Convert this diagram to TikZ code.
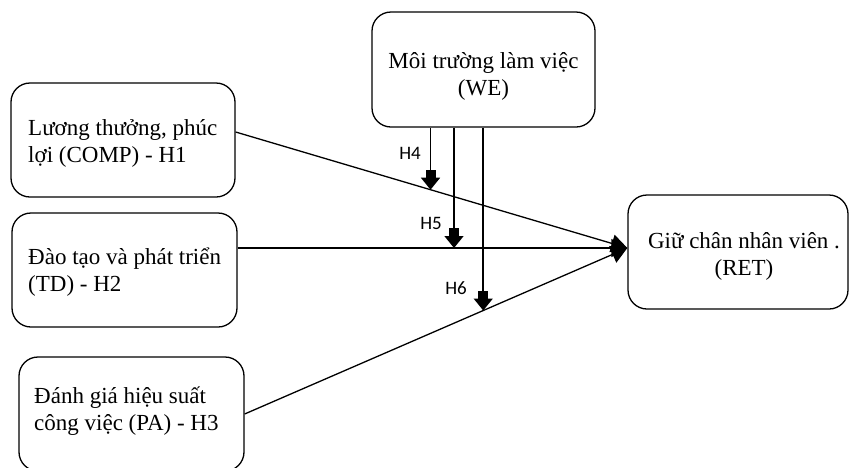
\documentclass[tikz,border=0pt]{standalone}
\usepackage{fontspec}
\setmainfont{Liberation Serif}
\newfontfamily\hfont{Carlito}
\usetikzlibrary{arrows.meta,calc}
\begin{document}
\begin{tikzpicture}[x=1pt,y=-1pt,
  box/.style={draw, line width=1.3pt, rounded corners=19pt, inner sep=0pt},
  txt/.style={inner sep=0pt, font=\fontsize{23}{27}\selectfont},
  hlab/.style={inner sep=0pt, font=\hfont\fontsize{19}{22}\selectfont},
  link/.style={line width=1.3pt, -{Triangle[length=16pt,width=18pt]}},
  moder/.style={line width=1.6pt, -{Rectangle[length=8pt,width=10pt]Triangle[length=12pt,width=19pt]}}]
\clip (0,0) rectangle (849,467);
\fill[white] (0,0) rectangle (849,467);
% boxes
\node[box, minimum width=223pt, minimum height=115pt] (we) at (483.5,69.5) {};
\node[box, minimum width=224pt, minimum height=114pt] (comp) at (123,140) {};
\node[box, minimum width=225pt, minimum height=114pt] (td) at (124.5,270) {};
\node[box, minimum width=225pt, minimum height=114pt] (pa) at (131.5,414) {};
\node[box, minimum width=220pt, minimum height=114pt] (ret) at (738,252) {};
% texts
\node[txt, align=center] (wet) at (483.5,76) {Môi trường làm việc\\(WE)};
\node[txt, align=left, anchor=west] (compt) at (28,143) {Lương thưởng, phúc\\lợi (COMP) - H1};
\node[txt, align=left, anchor=west] (tdt) at (28,272.5) {Đào tạo và phát triển\\(TD) - H2};
\node[txt, align=left, anchor=west] (pat) at (34,411.5) {Đánh giá hiệu suất\\công việc (PA) - H3};
\node[txt, align=center] (rett) at (744,256.5) {Giữ chân nhân viên .\\(RET)};
% connectors to RET
\coordinate (rettip) at ([yshift=4pt]ret.west);
\coordinate (compout) at ([yshift=8pt]comp.east);
\coordinate (tdout) at (td.east |- rettip);
\coordinate (paout) at (pa.east);
\draw[link] (compout) -- (rettip);
\draw[link] (tdout) -- (rettip);
\draw[link] (paout) -- (rettip);
% moderating points
\coordinate (h4pt) at ($(compout)!0.4975!(rettip)$);
\coordinate (h5pt) at (454,248);
\coordinate (h6pt) at ($(paout)!0.6234!(rettip)$);
\draw[moder] (we.south -| h4pt) -- (h4pt);
\draw[moder] (we.south -| h5pt) -- (h5pt);
\draw[moder] (we.south -| h6pt) -- (h6pt);
% labels
\node[hlab] (h4) at (410,153) {H4};
\node[hlab] (h5) at (431,223.5) {H5};
\node[hlab] (h6) at (456,288.5) {H6};
\end{tikzpicture}
\end{document}
